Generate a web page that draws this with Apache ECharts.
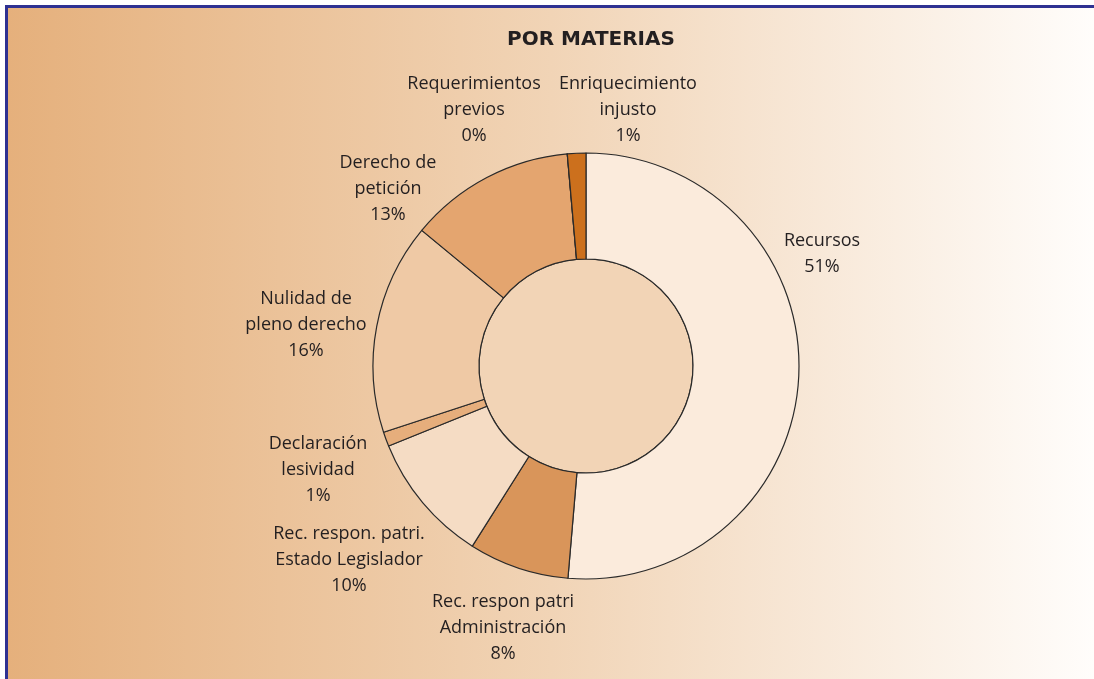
<!DOCTYPE html>
<html><head><meta charset="utf-8">
<script src="https://cdn.jsdelivr.net/npm/echarts@6/dist/echarts.min.js"></script>
<style>html,body{margin:0;padding:0;background:#fff}#c{width:1094px;height:679px}</style>
</head><body><div id="c"></div>
<script>
const title = 'POR MATERIAS';
const categories = ['Recursos','Rec. respon patri\nAdministración','Rec. respon. patri.\nEstado Legislador','Declaración\nlesividad','Nulidad de\npleno derecho','Derecho de\npetición','Requerimientos\nprevios','Enriquecimiento\ninjusto'];
const values = [51.3, 7.6, 9.9, 1.1, 16.0, 12.6, 0, 1.4];
const colors = ['#fbebdc','#d9955a','#f5dcc4','#e6ae7c','#efc9a5','#e4a56f','#d98a45','#cc701d'];
// label text-block centres (style, not data)
const labelPos = [[822,254],[503,628],[349,560],[318,470],[306,325],[388,189],[474,110],[628,110]];

const chart = echarts.init(document.getElementById('c'));
chart.setOption({
  animation:false,
  backgroundColor:'#ffffff',
  graphic:[
    {type:'rect', z:-10, shape:{x:8,y:8,width:1086,height:671}, style:{fill:new echarts.graphic.LinearGradient(0,0,1,0,[{offset:0,color:'#e5b07c'},{offset:0.5,color:'#f1d4b6'},{offset:1,color:'#fffdfb'}])}},
    {type:'rect', z:-9, shape:{x:5,y:5,width:1089,height:3}, style:{fill:'#2e3192'}},
    {type:'rect', z:-9, shape:{x:5,y:5,width:3,height:674}, style:{fill:'#2e3192'}}
  ],
  title:{text:title, left:586, top:25, textAlign:'center', textStyle:{fontFamily:'DejaVu Sans', fontWeight:'bold', fontSize:20, color:'#231f20'}},
  series:[
    {type:'pie', silent:true, radius:[0,107], center:[586,366], z:1,
     label:{show:false}, labelLine:{show:false},
     itemStyle:{color:'#f2d4b6', borderColor:'#2a2a2a', borderWidth:1.2},
     data:[{value:1, name:'inner'}]},
    {type:'pie', radius:[107,213], center:[586,366], startAngle:90, clockwise:true, z:2,
     avoidLabelOverlap:false,
     itemStyle:{borderColor:'#2a2a2a', borderWidth:1.2},
     label:{show:true, position:'outside', fontFamily:'Open Sans', fontSize:18, lineHeight:26, color:'#231f20', align:'center',
       formatter:p=>p.name+'\n'+Math.round(p.percent)+'%'},
     labelLine:{show:false},
     labelLayout:p=>({x:labelPos[p.dataIndex][0], y:labelPos[p.dataIndex][1], align:'center', verticalAlign:'middle'}),
     data:categories.map((n,i)=>({name:n, value:values[i], itemStyle:{color:colors[i]}}))}
  ]
});
</script></body></html>
